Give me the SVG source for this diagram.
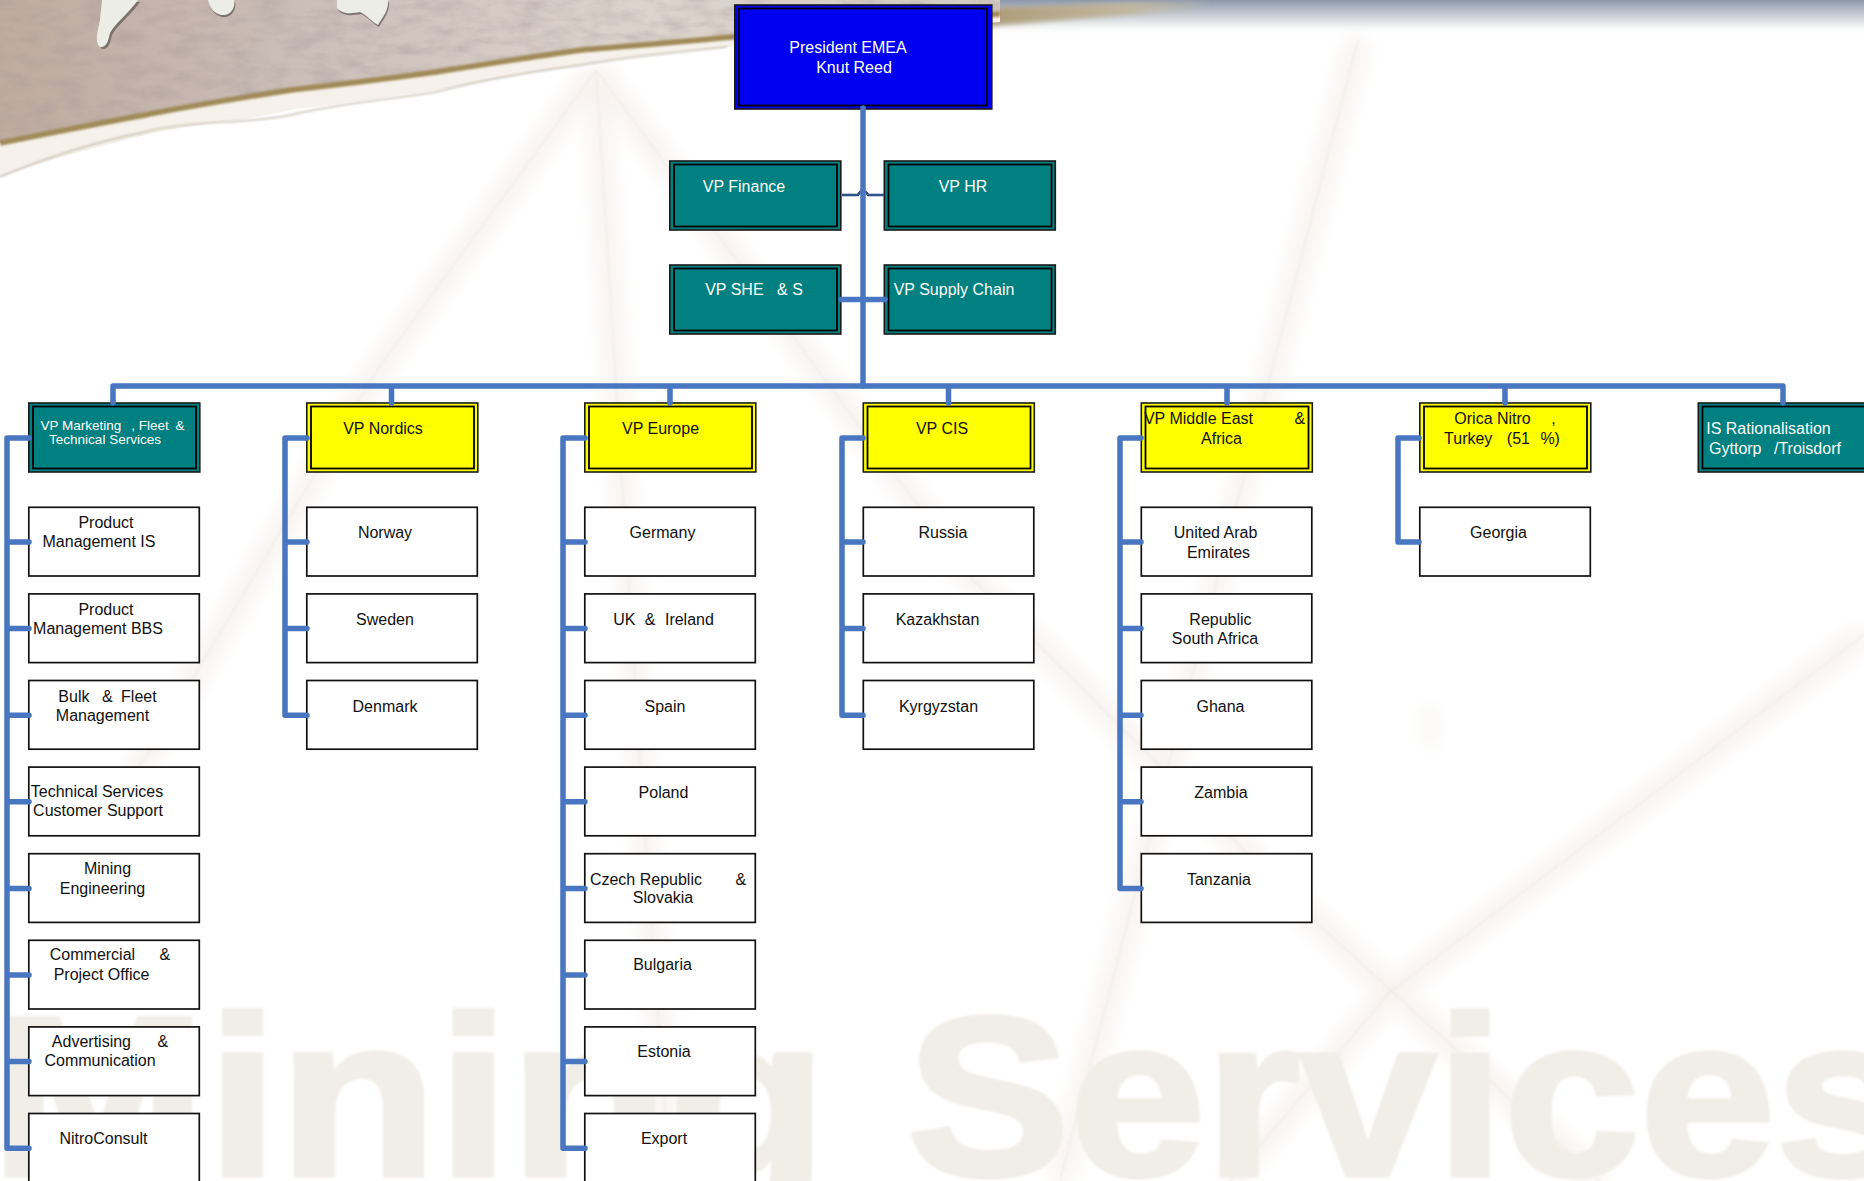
<svg xmlns="http://www.w3.org/2000/svg" width="1864" height="1181" viewBox="0 0 1864 1181">
<defs>
<style>
text{font-family:"Liberation Sans",Arial,sans-serif;font-size:16px;text-anchor:middle;fill:#111}
.w text,text.w{fill:#fff}
.leaf{fill:#fff;stroke:#111;stroke-width:1.7}
.outer{stroke:#1a1a1a;stroke-width:1.6}
.inner{fill:none;stroke:#000;stroke-width:1.8}
.teal{fill:#008080}.yellow{fill:#ff0}.blue{fill:#0000f0}
.conn{fill:none;stroke:#4876c0;stroke-width:5.5;stroke-linecap:round;stroke-linejoin:round}
.ray{fill:none;stroke:#f8f3f0;filter:url(#b6)}
.rayc{fill:none;stroke:#efebe5;stroke-width:1.3;filter:url(#b1)}
text.mark{font-size:227px;font-weight:bold;fill:#f1eee7;stroke:#f1eee7;stroke-width:5;text-anchor:start;filter:url(#b1)}
</style>
<filter id="b1" x="-20%" y="-20%" width="140%" height="140%"><feGaussianBlur stdDeviation="1"/></filter>
<filter id="b6" x="-30%" y="-30%" width="160%" height="160%"><feGaussianBlur stdDeviation="9"/></filter>
<filter id="b2" x="-20%" y="-20%" width="140%" height="140%"><feGaussianBlur stdDeviation="2.5"/></filter>
<filter id="grain" x="0" y="0" width="100%" height="100%"><feTurbulence type="fractalNoise" baseFrequency="0.035 0.09" numOctaves="4" seed="4"/><feColorMatrix values="0 0 0 0 .38 0 0 0 0 .32 0 0 0 0 .32 1.6 0 0 0 -.62"/></filter>
<linearGradient id="bandG" x1="0" x2="1" y1="0" y2="0"><stop offset="0" stop-color="#bfab9f"/><stop offset=".3" stop-color="#cbbeb8"/><stop offset=".65" stop-color="#ddd4cd"/><stop offset="1" stop-color="#d3cdc4"/></linearGradient>
<linearGradient id="topG" x1="0" x2="0" y1="0" y2="1"><stop offset="0" stop-color="#8b98ab"/><stop offset=".3" stop-color="#b9c0cb"/><stop offset=".7" stop-color="#eef0f0"/><stop offset="1" stop-color="#fff" stop-opacity="0"/></linearGradient>
<linearGradient id="tanG" x1="0" x2="1" y1="0" y2="0"><stop offset="0" stop-color="#ab9a76"/><stop offset=".65" stop-color="#c2b79e"/><stop offset="1" stop-color="#c8bca0" stop-opacity="0"/></linearGradient>
<clipPath id="bandClip"><path d="M0 0H1000V14C900 20 820 26 732 37C680 42 630 46 582 50C530 57 480 65 436 72C385 79 335 85 291 90C240 98 190 106 145 115C95 124 45 134 0 143Z"/></clipPath>
</defs>

<g id="background">
<rect width="1864" height="1181" fill="#fff"/>
<g id="rays">
<path class="ray" stroke-width="22" d="M596 70L640 763L670 1181M596 70L377 370L120 800M1358 40L1060 1181M596 70L973 580L1318 924L1600 1181M1864 635L1390 992L1230 1181"/>
<path class="rayc" d="M596 70L640 763L670 1181M596 70L377 370L120 800M596 70L973 580L1318 924L1600 1181M1864 635L1390 992L1230 1181M1358 40L1060 1181"/>
<rect x="1420" y="705" width="20" height="42" fill="#faf9f7" filter="url(#b6)"/>
</g>
<text class="mark" transform="translate(-10 1175) scale(1.145 1)">Mining</text>
<text class="mark" transform="translate(907 1175) scale(1.075 1)">Services</text>
<rect x="990" width="874" height="36" fill="url(#topG)"/>
<path d="M975 8L1210 0V8L990 26Z" fill="url(#tanG)" filter="url(#b2)"/>
<path d="M0 177C45 160 95 148 145 135C190 124 240 122 291 110C335 104 385 97 436 90C480 82 530 72 582 65C630 55 680 52 727 47C820 36 900 30 1000 22L1000 14C900 20 820 26 732 37C680 42 630 46 582 50C530 57 480 65 436 72C385 79 335 85 291 90C240 98 190 106 145 115C95 124 45 134 0 143Z" fill="#f6f1ea"/>
<path d="M0 177C45 158 95 142 145 132C190 120 240 125 291 115C335 104 385 100 436 92C480 80 530 72 582 65C630 56 680 52 727 47" fill="none" stroke="#b9ae9c" stroke-width="1.4" filter="url(#b1)" opacity=".8"/>
<path d="M0 0H1000V14C900 20 820 26 732 37C680 42 630 46 582 50C530 57 480 65 436 72C385 79 335 85 291 90C240 98 190 106 145 115C95 124 45 134 0 143Z" fill="url(#bandG)"/>
<g clip-path="url(#bandClip)"><rect width="1000" height="150" filter="url(#grain)" opacity=".5"/></g>
<path d="M0 143C45 134 95 124 145 115C190 106 240 98 291 90C335 85 385 79 436 72C480 65 530 57 582 50C630 46 680 42 732 37C820 26 900 20 1000 14" fill="none" stroke="#a08a58" stroke-width="5.5" filter="url(#b1)"/>
<g id="map">
<path d="M102 0H138C128 14 116 22 110 33C108 42 106 48 100 47C94 42 98 30 100 20Z" fill="#4d4a45" opacity=".6" transform="translate(2 2)"/>
<path d="M102 0H138C128 14 116 22 110 33C108 42 106 48 100 47C94 42 98 30 100 20Z" fill="#eceee6"/>
<path d="M208 0H234C236 8 230 16 222 15C214 14 210 8 208 0Z" fill="#4d4a45" opacity=".6" transform="translate(1 2)"/>
<path d="M208 0H234C236 8 230 16 222 15C214 14 210 8 208 0Z" fill="#eceee6"/>
<path d="M337 0H388C389 10 382 18 378 25C372 22 368 16 360 12C350 14 342 14 337 8Z" fill="#4d4a45" opacity=".6" transform="translate(1 2)"/>
<path d="M337 0H388C389 10 382 18 378 25C372 22 368 16 360 12C350 14 342 14 337 8Z" fill="#eceee6"/>
</g>
</g>

<g id="nodes" transform="translate(0 -0.5)">
<g id="president"><rect class="outer blue" x="734.8" y="5.5" width="257" height="104"/><rect class="inner" x="739" y="9" width="248" height="97"/><text class="w" x="848" y="53.5">President EMEA</text><text class="w" x="854" y="73.5">Knut Reed</text></g>
<g id="vp-finance"><rect class="outer teal" x="669.8" y="161.5" width="171" height="69"/><rect class="inner" x="674" y="165" width="163" height="62"/><text class="w" x="744" y="192.5">VP Finance</text></g>
<g id="vp-hr"><rect class="outer teal" x="884.3" y="161.5" width="171" height="69"/><rect class="inner" x="888.5" y="165" width="163" height="62"/><text class="w" x="963" y="192.5">VP HR</text></g>
<g id="vp-she"><rect class="outer teal" x="669.8" y="265.5" width="171" height="69"/><rect class="inner" x="674" y="269" width="163" height="62"/><text class="w" x="754" y="295.5">VP SHE <tspan dx="9">&amp;</tspan> S</text></g>
<g id="vp-supply"><rect class="outer teal" x="884.3" y="265.5" width="171" height="69"/><rect class="inner" x="888.5" y="269" width="163" height="62"/><text class="w" x="954" y="295.5">VP Supply Chain</text></g>

<g id="vp-marketing"><rect class="outer teal" x="28.8" y="403.5" width="171" height="69"/><rect class="inner" x="33" y="407" width="163" height="62"/><text class="w" x="112.5" y="430.5" style="font-size:13.5px">VP Marketing <tspan dx="6">,</tspan> Fleet <tspan dx="3">&amp;</tspan></text><text class="w" x="105" y="444.5" style="font-size:13.5px">Technical Services</text></g>
<g id="product-is"><rect class="leaf" x="28.8" y="507.8" width="170.5" height="68.7"/><text x="106" y="528.5">Product</text><text x="99" y="547.5">Management IS</text></g>
<g id="product-bbs"><rect class="leaf" x="28.8" y="594.4" width="170.5" height="68.7"/><text x="106" y="615.5">Product</text><text x="98" y="634.5">Management BBS</text></g>
<g id="bulk-fleet"><rect class="leaf" x="28.8" y="681" width="170.5" height="68.7"/><text x="107.5" y="702.5">Bulk <tspan dx="8">&amp;</tspan> <tspan dx="4">Fleet</tspan></text><text x="102.5" y="721.5">Management</text></g>
<g id="technical-services"><rect class="leaf" x="28.8" y="767.6" width="170.5" height="68.7"/><text x="97" y="797.5">Technical Services</text><text x="98" y="816.5">Customer Support</text></g>
<g id="mining-eng"><rect class="leaf" x="28.8" y="854.2" width="170.5" height="68.7"/><text x="107.5" y="874.5">Mining</text><text x="102.5" y="894.5">Engineering</text></g>
<g id="commercial"><rect class="leaf" x="28.8" y="940.8" width="170.5" height="68.7"/><text x="110" y="960.5">Commercial <tspan dx="20">&amp;</tspan></text><text x="101.5" y="980.5">Project Office</text></g>
<g id="advertising"><rect class="leaf" x="28.8" y="1027.4" width="170.5" height="68.7"/><text x="110" y="1047.5">Advertising <tspan dx="22">&amp;</tspan></text><text x="100" y="1066.5">Communication</text></g>
<g id="nitroconsult"><rect class="leaf" x="28.8" y="1114" width="170.5" height="68.7"/><text x="103.5" y="1144">NitroConsult</text></g>

<g id="vp-nordics"><rect class="outer yellow" x="306.8" y="403.5" width="171" height="69"/><rect class="inner" x="311" y="407" width="163" height="62"/><text x="383" y="434.5">VP Nordics</text></g>
<g id="norway"><rect class="leaf" x="306.8" y="507.8" width="170.5" height="68.7"/><text x="385" y="538.5">Norway</text></g>
<g id="sweden"><rect class="leaf" x="306.8" y="594.4" width="170.5" height="68.7"/><text x="385" y="625">Sweden</text></g>
<g id="denmark"><rect class="leaf" x="306.8" y="681" width="170.5" height="68.7"/><text x="385" y="712">Denmark</text></g>

<g id="vp-europe"><rect class="outer yellow" x="584.8" y="403.5" width="171" height="69"/><rect class="inner" x="589" y="407" width="163" height="62"/><text x="660.5" y="434.5">VP Europe</text></g>
<g id="germany"><rect class="leaf" x="584.8" y="507.8" width="170.5" height="68.7"/><text x="662.5" y="538.5">Germany</text></g>
<g id="uk-ireland"><rect class="leaf" x="584.8" y="594.4" width="170.5" height="68.7"/><text x="663.5" y="625">UK <tspan dx="5">&amp;</tspan> <tspan dx="5">Ireland</tspan></text></g>
<g id="spain"><rect class="leaf" x="584.8" y="681" width="170.5" height="68.7"/><text x="665" y="712">Spain</text></g>
<g id="poland"><rect class="leaf" x="584.8" y="767.6" width="170.5" height="68.7"/><text x="663.5" y="798">Poland</text></g>
<g id="czech"><rect class="leaf" x="584.8" y="854.2" width="170.5" height="68.7"/><text x="668" y="885">Czech Republic <tspan dx="29">&amp;</tspan></text><text x="663" y="903.5">Slovakia</text></g>
<g id="bulgaria"><rect class="leaf" x="584.8" y="940.8" width="170.5" height="68.7"/><text x="662.5" y="970.5">Bulgaria</text></g>
<g id="estonia"><rect class="leaf" x="584.8" y="1027.4" width="170.5" height="68.7"/><text x="664" y="1057.5">Estonia</text></g>
<g id="export"><rect class="leaf" x="584.8" y="1114" width="170.5" height="68.7"/><text x="664" y="1144.5">Export</text></g>

<g id="vp-cis"><rect class="outer yellow" x="863.3" y="403.5" width="171" height="69"/><rect class="inner" x="867.5" y="407" width="163" height="62"/><text x="942" y="434.5">VP CIS</text></g>
<g id="russia"><rect class="leaf" x="863.3" y="507.8" width="170.5" height="68.7"/><text x="943" y="538.5">Russia</text></g>
<g id="kazakhstan"><rect class="leaf" x="863.3" y="594.4" width="170.5" height="68.7"/><text x="937.5" y="625">Kazakhstan</text></g>
<g id="kyrgyzstan"><rect class="leaf" x="863.3" y="681" width="170.5" height="68.7"/><text x="938.5" y="712">Kyrgyzstan</text></g>

<g id="vp-mea"><rect class="outer yellow" x="1141.3" y="403.5" width="171" height="69"/><rect class="inner" x="1145.5" y="407" width="163" height="62"/><text x="1224.5" y="424.5">VP Middle East <tspan dx="37">&amp;</tspan></text><text x="1221.5" y="444.5">Africa</text></g>
<g id="uae"><rect class="leaf" x="1141.3" y="507.8" width="170.5" height="68.7"/><text x="1215.5" y="538.5">United Arab</text><text x="1218.5" y="558.5">Emirates</text></g>
<g id="south-africa"><rect class="leaf" x="1141.3" y="594.4" width="170.5" height="68.7"/><text x="1220.5" y="625">Republic</text><text x="1215" y="644.5">South Africa</text></g>
<g id="ghana"><rect class="leaf" x="1141.3" y="681" width="170.5" height="68.7"/><text x="1220.5" y="712">Ghana</text></g>
<g id="zambia"><rect class="leaf" x="1141.3" y="767.6" width="170.5" height="68.7"/><text x="1221" y="798">Zambia</text></g>
<g id="tanzania"><rect class="leaf" x="1141.3" y="854.2" width="170.5" height="68.7"/><text x="1219" y="885">Tanzania</text></g>

<g id="orica-nitro"><rect class="outer yellow" x="1419.8" y="403.5" width="171" height="69"/><rect class="inner" x="1424" y="407" width="163" height="62"/><text x="1505" y="424.5">Orica Nitro <tspan dx="16">,</tspan></text><text x="1502" y="444.5">Turkey <tspan dx="10">(51</tspan> <tspan dx="6">%)</tspan></text></g>
<g id="georgia"><rect class="leaf" x="1419.8" y="507.8" width="170.5" height="68.7"/><text x="1498.5" y="538.5">Georgia</text></g>

<g id="is-rationalisation"><rect class="outer teal" x="1698.3" y="403.5" width="171" height="69"/><rect class="inner" x="1702.5" y="407" width="163" height="62"/><text class="w" x="1768.5" y="434.5">IS Rationalisation</text><text class="w" x="1775" y="454.5">Gyttorp <tspan dx="8">/Troisdorf</tspan></text></g>
</g>

<g id="connectors">
<path d="M842 195H858Q860 191 863 191Q866 191 868 195H884" fill="none" stroke="#1f3a68" stroke-width="2.4"/>
<path d="M842 195H858Q860 191 863 191Q866 191 868 195H884" fill="none" stroke="#4876c0" stroke-width=".8"/>
<path class="conn" d="M863 108V386"/>
<path class="conn" d="M841 299.5H885"/>
<path class="conn" d="M113 403V386H1783V403M391.5 386V403M670 386V403M948.5 386V403M1227 386V403M1505 386V403"/>
<path class="conn" d="M29 438H7V1148.2H29M7 542H29M7 628.6H29M7 715.2H29M7 801.8H29M7 888.4H29M7 975H29M7 1061.6H29"/>
<path class="conn" d="M307 438H285V715.2H307M285 542H307M285 628.6H307"/>
<path class="conn" d="M585 438H563V1148.2H585M563 542H585M563 628.6H585M563 715.2H585M563 801.8H585M563 888.4H585M563 975H585M563 1061.6H585"/>
<path class="conn" d="M863 438H842V715.2H863M842 542H863M842 628.6H863"/>
<path class="conn" d="M1141 438H1120V888.4H1141M1120 542H1141M1120 628.6H1141M1120 715.2H1141M1120 801.8H1141"/>
<path class="conn" d="M1419 438H1398V542H1419"/>
</g>
</svg>
